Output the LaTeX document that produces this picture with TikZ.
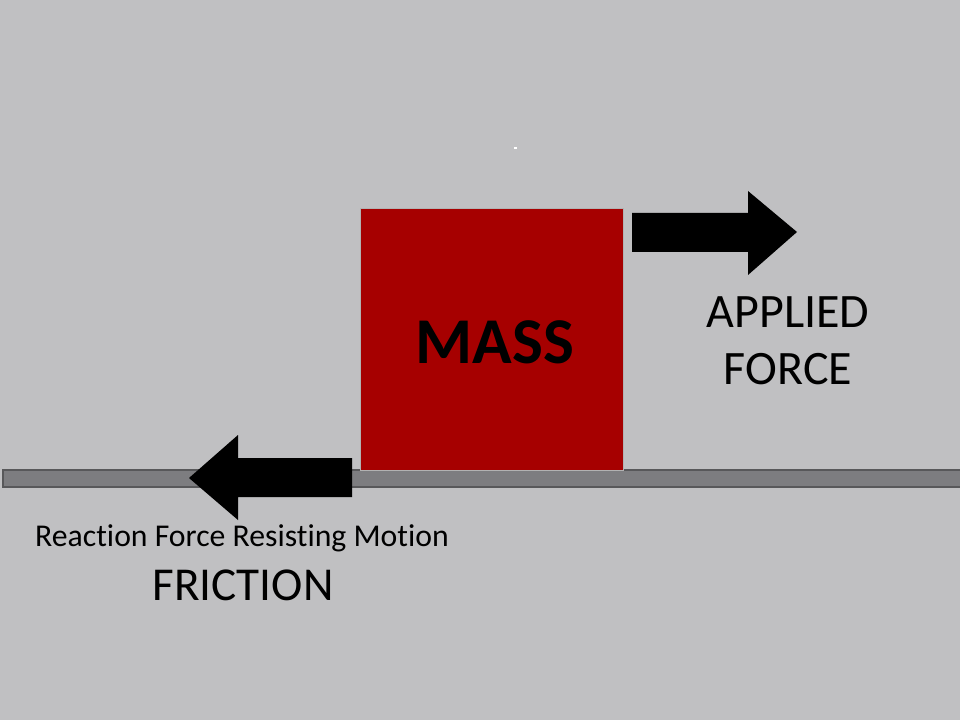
\documentclass[tikz,border=0pt]{standalone}
\usepackage{fontspec}
\setmainfont[Ligatures=NoCommon]{Carlito}
\definecolor{bgGray}{RGB}{192,192,194}
\definecolor{floorGray}{RGB}{125,125,128}
\definecolor{floorEdge}{RGB}{88,88,90}
\definecolor{massRed}{RGB}{166,0,0}
\begin{document}
\begin{tikzpicture}[x=0.75pt, y=-0.75pt]
    \fill[bgGray] (0,0) rectangle (960,720);
    \useasboundingbox (0,0) rectangle (960,720);
    % floor
    \draw[floorEdge, fill=floorGray, line width=1.2pt] (3,470) rectangle (975,487);
    % mass
    \node[draw=gray!60, line width=0.5pt, fill=massRed, minimum width=197.25pt, minimum height=196.5pt, inner sep=0pt, anchor=north west] (mass) at (360,208) {};
    \node[font=\bfseries\fontsize{49}{50}\selectfont] (masslabel) at (495,342) {MASS};
    % applied force arrow
    \fill[black] (632,213) -- (748,213) -- (748,191) -- (797,232) -- (748,275) -- (748,252) -- (632,252) -- cycle;
    \node[font=\fontsize{36}{43}\selectfont, align=center] (applied) at (788,341) {APPLIED\\FORCE};
    % friction arrow
    \fill[black] (352,458) -- (238,458) -- (238,435) -- (189,478) -- (238,520) -- (238,497) -- (352,497) -- cycle;
    \node[font=\fontsize{23.8}{28}\selectfont] (reaction) at (242,538) {Reaction Force Resisting Motion};
    \node[font=\fontsize{35.4}{40}\selectfont] (friction) at (243,585) {FRICTION};
    \fill[white] (514,147) rectangle (517,149);
\end{tikzpicture}
\end{document}
